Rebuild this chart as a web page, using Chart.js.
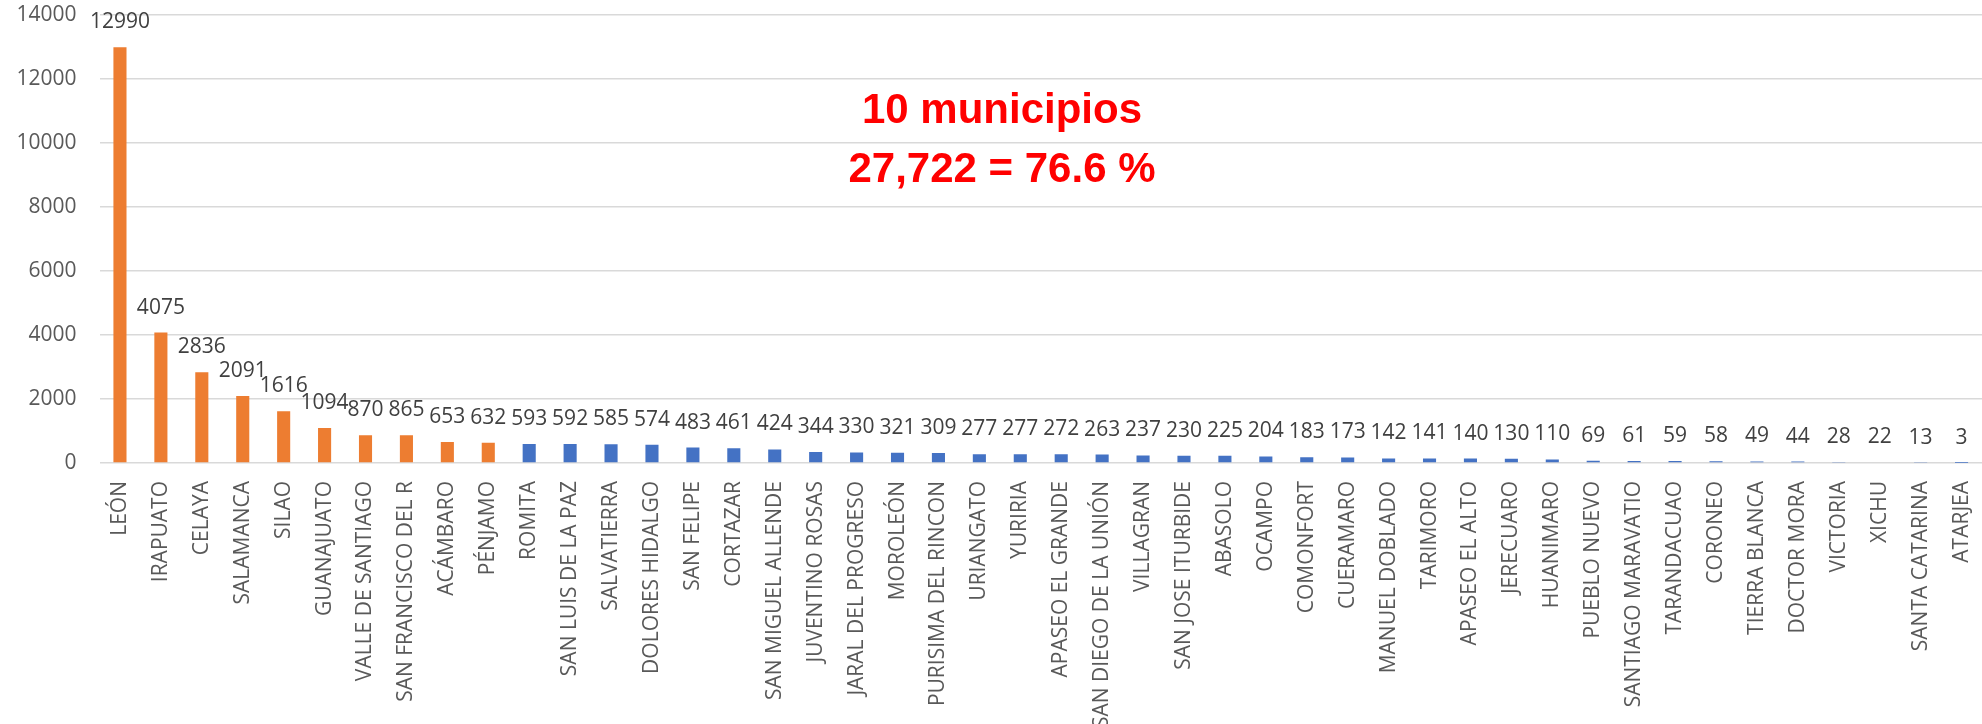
<!DOCTYPE html>
<html>
<head>
<meta charset="utf-8">
<title>Municipios</title>
<script src="https://cdn.jsdelivr.net/npm/chart.js@4.4.1/dist/chart.umd.min.js"></script>
<style>
    html, body { margin: 0; padding: 0; background: #fff; }
    #wrap { width: 1982px; height: 724px; }
</style>
</head>
<body>
<div id="wrap"><canvas id="chart" width="1982" height="724"></canvas></div>
<script>
// Datos: municipios ordenados de mayor a menor
const municipios = [
    'LEÓN', 'IRAPUATO', 'CELAYA', 'SALAMANCA', 'SILAO', 'GUANAJUATO',
    'VALLE DE SANTIAGO', 'SAN FRANCISCO DEL R', 'ACÁMBARO', 'PÉNJAMO',
    'ROMITA', 'SAN LUIS DE LA PAZ', 'SALVATIERRA', 'DOLORES HIDALGO',
    'SAN FELIPE', 'CORTAZAR', 'SAN MIGUEL ALLENDE', 'JUVENTINO ROSAS',
    'JARAL DEL PROGRESO', 'MOROLEÓN', 'PURISIMA DEL RINCON', 'URIANGATO',
    'YURIRIA', 'APASEO EL GRANDE', 'SAN DIEGO DE LA UNIÓN', 'VILLAGRAN',
    'SAN JOSE ITURBIDE', 'ABASOLO', 'OCAMPO', 'COMONFORT', 'CUERAMARO',
    'MANUEL DOBLADO', 'TARIMORO', 'APASEO EL ALTO', 'JERECUARO',
    'HUANIMARO', 'PUEBLO NUEVO', 'SANTIAGO MARAVATIO', 'TARANDACUAO',
    'CORONEO', 'TIERRA BLANCA', 'DOCTOR MORA', 'VICTORIA', 'XICHU',
    'SANTA CATARINA', 'ATARJEA'
];

const casos = [
    12990, 4075, 2836, 2091, 1616, 1094, 870, 865, 653, 632,
    593, 592, 585, 574, 483, 461, 424, 344, 330, 321,
    309, 277, 277, 272, 263, 237, 230, 225, 204, 183,
    173, 142, 141, 140, 130, 110, 69, 61, 59, 58,
    49, 44, 28, 22, 13, 3
];

const yTicks = [0, 2000, 4000, 6000, 8000, 10000, 12000, 14000];
const topCount = 10; // los primeros 10 van en naranja
const notaLineas = ['10 municipios', '27,722 = 76.6 %'];

const ORANGE = '#ED7D31';
const BLUE = '#4472C4';

// Etiquetas de valor encima de cada barra
const dataLabels = {
    id: 'dataLabels',
    afterDatasetsDraw(chart) {
        const ctx = chart.ctx;
        const meta = chart.getDatasetMeta(0);
        ctx.save();
        ctx.font = '21px "Open Sans"';
        ctx.fillStyle = '#404040';
        ctx.textAlign = 'center';
        ctx.textBaseline = 'middle';
        meta.data.forEach((bar, i) => {
            ctx.fillText(String(casos[i]), bar.x, bar.y - 25);
        });
        ctx.restore();
    }
};

// Texto rojo en medio del grafico
const nota = {
    id: 'nota',
    afterDraw(chart) {
        const { ctx, chartArea } = chart;
        const w = chartArea.right - chartArea.left;
        const h = chartArea.bottom - chartArea.top;
        const x = chartArea.left + w * 0.4794;
        const ys = [0.215, 0.3475];
        ctx.save();
        ctx.font = 'bold 42px "Liberation Sans"';
        ctx.fillStyle = '#FF0000';
        ctx.textAlign = 'center';
        ctx.textBaseline = 'middle';
        notaLineas.forEach((t, i) => {
            ctx.fillText(t, x, chartArea.top + h * ys[i]);
        });
        ctx.restore();
    }
};

new Chart(document.getElementById('chart'), {
    type: 'bar',
    data: {
        labels: municipios,
        datasets: [{
            data: casos,
            backgroundColor: (c) => c.dataIndex < topCount ? ORANGE : BLUE,
            categoryPercentage: 1,
            barPercentage: 0.32
        }]
    },
    options: {
        responsive: false,
        animation: false,
        devicePixelRatio: 1,
        layout: { padding: { top: 15, right: 0, left: 0, bottom: 0 } },
        plugins: { legend: { display: false }, tooltip: { enabled: false } },
        scales: {
            x: {
                grid: { display: false, drawTicks: false },
                border: { display: false },
                ticks: {
                    autoSkip: false,
                    minRotation: 90,
                    maxRotation: 90,
                    padding: 18,
                    color: '#595959',
                    font: { family: 'Open Sans', size: 21 }
                },
                afterFit(scale) {
                    scale.height = 261;
                    scale.paddingLeft = 0;
                    scale.paddingRight = 0;
                }
            },
            y: {
                min: 0,
                max: 14000,
                grid: { color: '#D9D9D9', lineWidth: 1.5, drawTicks: false },
                border: { display: false },
                afterBuildTicks(scale) {
                    scale.ticks = yTicks.map(v => ({ value: v }));
                },
                ticks: {
                    padding: 23,
                    color: '#595959',
                    font: { family: 'Open Sans', size: 21 },
                    callback: (v) => String(v)
                },
                afterFit(scale) {
                    scale.width = 99.5;
                    scale.paddingTop = 0;
                    scale.paddingBottom = 0;
                }
            }
        }
    },
    plugins: [dataLabels, nota]
});
</script>
</body>
</html>
